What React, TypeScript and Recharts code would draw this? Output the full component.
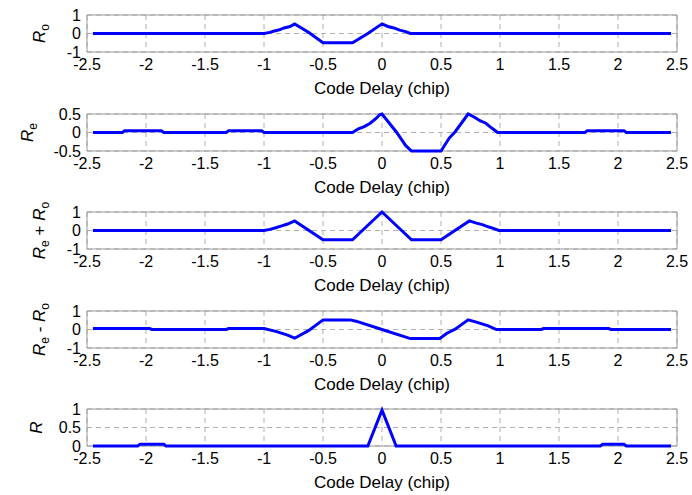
import React from "react";
import {
  CartesianGrid,
  Line,
  LineChart,
  ReferenceArea,
  XAxis,
  YAxis,
} from "recharts";

// shared x axis
const xTicks = [-2.5, -2, -1.5, -1, -0.5, 0, 0.5, 1, 1.5, 2, 2.5];

// R_o
const roX = [-2.45, -1.0, -0.95, -0.92, -0.87, -0.83, -0.78, -0.74, -0.62, -0.5, -0.25, -0.12, 0, 0.05, 0.1, 0.15, 0.2, 0.24, 2.45];
const roY = [0, 0, 0.06, 0.12, 0.2, 0.3, 0.38, 0.52, 0.05, -0.5, -0.5, 0.0, 0.52, 0.38, 0.3, 0.18, 0.1, 0, 0];

// R_e
const reX = [-2.45, -2.2, -2.18, -1.87, -1.85, -1.32, -1.3, -1.02, -1.0, -0.25, -0.2, -0.15, -0.1, -0.05, -0.02, 0, 0.12, 0.2, 0.25, 0.5, 0.57, 0.62, 0.73, 0.78, 0.83, 0.88, 0.93, 0.98, 1.72, 1.74, 2.05, 2.07, 2.45];
const reY = [0, 0, 0.05, 0.05, 0, 0, 0.05, 0.05, 0, 0, 0.1, 0.16, 0.25, 0.38, 0.48, 0.5, 0.02, -0.35, -0.5, -0.5, -0.15, 0.02, 0.5, 0.42, 0.32, 0.25, 0.12, 0, 0, 0.05, 0.05, 0, 0];

// R_e + R_o
const sumX = [-2.45, -1.0, -0.95, -0.9, -0.85, -0.8, -0.74, -0.5, -0.25, 0, 0.25, 0.5, 0.74, 0.8, 0.85, 0.9, 0.95, 0.99, 2.45];
const sumY = [0, 0, 0.06, 0.15, 0.25, 0.35, 0.52, -0.5, -0.5, 1, -0.5, -0.5, 0.52, 0.4, 0.32, 0.2, 0.1, 0, 0];

// R_e - R_o
const diffX = [-2.45, -1.97, -1.95, -1.32, -1.3, -1.0, -0.9, -0.8, -0.74, -0.62, -0.5, -0.27, -0.22, 0, 0.24, 0.49, 0.55, 0.62, 0.73, 0.8, 0.9, 0.97, 1.35, 1.37, 1.92, 1.94, 2.45];
const diffY = [0.05, 0.05, 0, 0, 0.05, 0.05, -0.1, -0.3, -0.47, -0.05, 0.52, 0.52, 0.45, 0, -0.49, -0.49, -0.2, 0.02, 0.52, 0.4, 0.2, 0, 0, 0.05, 0.05, 0, 0];

// R
const rX = [-2.45, -2.07, -2.05, -1.85, -1.83, -0.12, 0, 0.12, 1.85, 1.87, 2.05, 2.07, 2.45];
const rY = [0, 0, 0.05, 0.05, 0, 0, 0.97, 0, 0, 0.05, 0.05, 0, 0];

const zip = (xs: number[], ys: number[]) => xs.map((x, i) => ({ x, y: ys[i] }));

const W = 692;
const PLOT_LEFT = 87;
const PLOT_RIGHT = 677;
const PLOT_H = 37;
const TOP_M = 36;
const X_AXIS_H = 52;
const FONT = "'Liberation Sans', Arial, Helvetica, sans-serif";

type LabelPart = { t: string; sub?: boolean; it?: boolean };

type Panel = {
  top: number;
  data: { x: number; y: number }[];
  domain: [number, number];
  yTicks: number[];
  label: LabelPart[];
  labelX: number;
};

const panels: Panel[] = [
  {
    top: 15,
    data: zip(roX, roY),
    domain: [-1, 1],
    yTicks: [-1, 0, 1],
    label: [{ t: "R", it: true }, { t: "o", sub: true }],
    labelX: 45,
  },
  {
    top: 114,
    data: zip(reX, reY),
    domain: [-0.5, 0.5],
    yTicks: [-0.5, 0, 0.5],
    label: [{ t: "R", it: true }, { t: "e", sub: true }],
    labelX: 33,
  },
  {
    top: 212,
    data: zip(sumX, sumY),
    domain: [-1, 1],
    yTicks: [-1, 0, 1],
    label: [
      { t: "R", it: true },
      { t: "e", sub: true },
      { t: " + " },
      { t: "R", it: true },
      { t: "o", sub: true },
    ],
    labelX: 45,
  },
  {
    top: 311,
    data: zip(diffX, diffY),
    domain: [-1, 1],
    yTicks: [-1, 0, 1],
    label: [
      { t: "R", it: true },
      { t: "e", sub: true },
      { t: " - " },
      { t: "R", it: true },
      { t: "o", sub: true },
    ],
    labelX: 45,
  },
  {
    top: 409,
    data: zip(rX, rY),
    domain: [0, 1],
    yTicks: [0, 0.5, 1],
    label: [{ t: "R", it: true }],
    labelX: 42,
  },
];

function YLabel({ parts, bx }: { parts: LabelPart[]; bx: number }) {
  const cy = TOP_M + PLOT_H / 2;
  let lowered = false;
  const spans = parts.map((p, i) => {
    let dy = 0;
    if (p.sub && !lowered) {
      dy = 4;
      lowered = true;
    } else if (!p.sub && lowered) {
      dy = -4;
      lowered = false;
    }
    return (
      <tspan
        key={i}
        dy={dy}
        fontStyle={p.it ? "italic" : "normal"}
        fontSize={p.sub ? 12 : 17}
      >
        {p.t}
      </tspan>
    );
  });
  return (
    <text
      x={bx}
      y={cy}
      transform={`rotate(-90 ${bx} ${cy})`}
      textAnchor="middle"
      fill="#000"
      fontFamily={FONT}
      fontSize={17}
      style={{ whiteSpace: "pre" }}
    >
      {spans}
    </text>
  );
}

function XLabel() {
  const y = TOP_M + PLOT_H + 42;
  const x = (PLOT_LEFT + PLOT_RIGHT) / 2;
  return (
    <text x={x} y={y} textAnchor="middle" fill="#000" fontFamily={FONT} fontSize={17}>
      Code Delay (chip)
    </text>
  );
}

function PanelChart({ p }: { p: Panel }) {
  return (
    <div style={{ position: "absolute", left: 0, top: p.top - TOP_M }}>
      <LineChart
        width={W}
        height={TOP_M + PLOT_H + X_AXIS_H}
        data={p.data}
        margin={{ top: TOP_M, right: W - PLOT_RIGHT, bottom: 0, left: 0 }}
      >
        <CartesianGrid
          stroke="#b0b0b0"
          strokeDasharray="5 4"
          strokeWidth={1}
        />
        <XAxis
          dataKey="x"
          type="number"
          domain={[-2.5, 2.5]}
          ticks={xTicks}
          interval={0}
          height={X_AXIS_H}
          axisLine={false}
          tickLine={false}
          tickSize={0}
          tickMargin={7}
          tick={{ fill: "#000", fontSize: 16, fontFamily: FONT }}
          label={<XLabel />}
        />
        <YAxis
          type="number"
          domain={p.domain}
          ticks={p.yTicks}
          interval={0}
          width={PLOT_LEFT}
          axisLine={false}
          tickLine={false}
          tickSize={0}
          tickMargin={6}
          tick={{ fill: "#000", fontSize: 16, fontFamily: FONT }}
          label={<YLabel parts={p.label} bx={p.labelX} />}
        />
        <ReferenceArea
          x1={-2.5}
          x2={2.5}
          y1={p.domain[0]}
          y2={p.domain[1]}
          fill="none"
          stroke="#9a9a9a"
          strokeWidth={1}
        />
        <Line
          dataKey="y"
          type="linear"
          stroke="#0000ff"
          strokeWidth={3}
          dot={false}
          isAnimationActive={false}
        />
      </LineChart>
    </div>
  );
}

export default function App() {
  return (
    <div
      style={{
        position: "absolute",
        left: 0,
        top: 0,
        width: W,
        height: 495,
        background: "#fff",
      }}
    >
      {panels.map((p, i) => (
        <PanelChart key={i} p={p} />
      ))}
    </div>
  );
}
